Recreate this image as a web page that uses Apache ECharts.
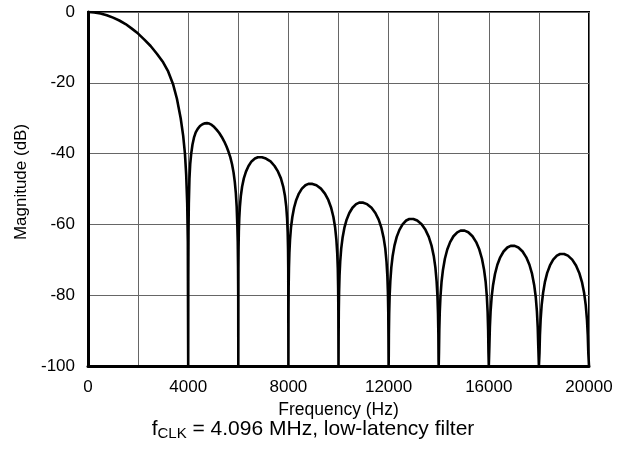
<!DOCTYPE html>
<html>
<head>
<meta charset="utf-8">
<script src="https://cdn.jsdelivr.net/npm/echarts@6/dist/echarts.min.js"></script>
<style>
html,body{margin:0;padding:0;background:#fff;}
#chart{width:626px;height:452px;}
</style>
</head>
<body>
<div id="chart"></div>
<script>
// Tick labels
const xTickLabels = [0, 4000, 8000, 12000, 16000, 20000];
const yTickLabels = [0, -20, -40, -60, -80, -100];

// Frequency response, lobe by lobe (Hz)
const freqHz = [
  // main lobe
  0, 250, 500, 750, 1000, 1250, 1500, 1750, 2000, 2250, 2500, 2750, 3000, 3200, 3400, 3550, 3700, 3800, 3870, 3920, 3960, 3985,
  // lobe 1
  4000, 4004, 4012, 4025, 4050, 4080, 4120, 4170, 4230, 4300, 4380, 4470, 4570, 4670, 4750, 4840, 4940, 5040, 5140, 5240, 5340, 5440, 5530, 5610, 5680, 5750, 5810, 5860, 5900, 5935, 5960, 5978, 5990, 5997,
  // lobe 2
  6000, 6004, 6010, 6021, 6038, 6064, 6102, 6153, 6221, 6306, 6408, 6527, 6663, 6782, 6850,
  6942, 7103, 7287, 7448, 7586, 7701, 7793, 7862, 7914, 7948, 7971, 7986, 7994,
  // lobe 3
  8000, 8004, 8010, 8022, 8039, 8065, 8104, 8157, 8226, 8313, 8418, 8539, 8679, 8800, 8870,
  8960, 9119, 9299, 9458, 9593, 9706, 9797, 9864, 9915, 9949, 9972, 9986, 9994,
  // lobe 4
  10000, 10005, 10011, 10023, 10041, 10068, 10108, 10162, 10234, 10324, 10432, 10558, 10702, 10828, 10900,
  10988, 11142, 11318, 11472, 11604, 11714, 11802, 11868, 11917, 11950, 11972, 11987, 11994,
  // lobe 5
  12000, 12005, 12011, 12023, 12041, 12068, 12108, 12162, 12234, 12324, 12432, 12558, 12702, 12828, 12900,
  12988, 13142, 13318, 13472, 13604, 13714, 13802, 13868, 13917, 13950, 13972, 13987, 13994,
  // lobe 6
  14000, 14011, 14024, 14043, 14071, 14114, 14171, 14247, 14342, 14456, 14589, 14741, 14874, 14950,
  15034, 15181, 15349, 15496, 15622, 15727, 15811, 15874, 15921, 15953, 15974, 15987,
  // lobe 7
  16000, 16024, 16043, 16071, 16114, 16171, 16247, 16342, 16456, 16589, 16741, 16874, 16950,
  17034, 17181, 17349, 17496, 17622, 17727, 17811, 17874, 17921, 17953, 17974,
  // lobe 8
  18000, 18023, 18041, 18069, 18110, 18166, 18239, 18331, 18442, 18570, 18718, 18846, 18920,
  19006, 19158, 19330, 19482, 19611, 19719, 19806, 19870, 19919, 19951, 19973, 20000
];

// Magnitude (dB), same order as freqHz
const magnitudeDb = [
  // main lobe
  0, -0.1, -0.4, -0.9, -1.6, -2.4, -3.4, -4.7, -6.1, -7.8, -9.6, -11.8, -14.2, -16.8, -20.5, -24.5, -30, -35, -40, -46, -54, -65,
  // lobe 1
  -100, -75, -62, -54, -47, -43, -40, -37.5, -35.5, -34, -33, -32.2, -31.7, -31.45, -31.4, -31.5, -31.9, -32.5, -33.3, -34.2, -35.3, -36.6, -38, -39.5, -41, -43, -45.3, -48, -51, -55, -60, -65, -72, -80,
  // lobe 2
  -100, -72.6, -66.9, -62.1, -58.3, -55.0, -51.9, -49.3, -47.0, -45.1, -43.5, -42.2, -41.4, -41.05, -41,
  -41.05, -41.4, -42.2, -43.5, -45.1, -47.0, -49.3, -51.9, -55.0, -58.3, -62.1, -66.9, -72.6,
  // lobe 3
  -100, -84.3, -77.8, -72.4, -68.05, -64.3, -60.8, -57.9, -55.3, -53.1, -51.3, -49.9, -48.95, -48.56, -48.5,
  -48.56, -48.95, -49.9, -51.3, -53.1, -55.3, -57.9, -60.8, -64.3, -68.05, -72.4, -77.8, -84.3,
  // lobe 4
  -100, -91.7, -84.85, -79.1, -74.5, -70.55, -66.85, -63.8, -61.0, -58.66, -56.77, -55.29, -54.28, -53.86, -53.8,
  -53.86, -54.28, -55.29, -56.77, -58.66, -61.0, -63.8, -66.85, -70.55, -74.5, -79.1, -84.85, -91.7,
  // lobe 5
  -100, -98.4, -91.2, -85.1, -80.25, -76.1, -72.2, -68.9, -66.0, -63.53, -61.54, -59.97, -58.9, -58.47, -58.4,
  -58.47, -58.9, -59.97, -61.54, -63.53, -66.0, -68.9, -72.2, -76.1, -80.25, -85.1, -91.2, -98.4,
  // lobe 6
  -100, -96.2, -89.8, -84.7, -80.3, -76.2, -72.8, -69.7, -67.1, -65.0, -63.35, -62.23, -61.77, -61.7,
  -61.77, -62.23, -63.35, -65.0, -67.1, -69.7, -72.8, -76.2, -80.3, -84.7, -89.8, -96.2,
  // lobe 7
  -100, -94.1, -89.0, -84.6, -80.5, -77.1, -74.0, -71.4, -69.3, -67.65, -66.53, -66.07, -66,
  -66.07, -66.53, -67.65, -69.3, -71.4, -74.0, -77.1, -80.5, -84.6, -89.0, -94.1,
  // lobe 8
  -100, -96.4, -91.3, -86.9, -82.8, -79.4, -76.3, -73.7, -71.6, -69.95, -68.83, -68.37, -68.3,
  -68.37, -68.83, -69.95, -71.6, -73.7, -76.3, -79.4, -82.8, -86.9, -91.3, -96.4, -100
];

const FONT = 'Liberation Sans, Arial, Helvetica, sans-serif';
const chart = echarts.init(document.getElementById('chart'), null, {renderer: 'canvas'});
const seriesData = freqHz.map((f, i) => [f, magnitudeDb[i]]);

chart.setOption({
  animation: false,
  backgroundColor: '#ffffff',
  textStyle: {fontFamily: FONT, color: '#000'},
  title: {
    left: 'center',
    top: 417,
    padding: 0,
    text: '{m|f}{s|CLK}{m| = 4.096 MHz, low-latency filter}',
    textStyle: {
      fontWeight: 'normal',
      rich: {
        m: {fontFamily: FONT, fontSize: 21, fontWeight: 'normal', color: '#000', lineHeight: 24, verticalAlign: 'middle'},
        s: {fontFamily: FONT, fontSize: 15, fontWeight: 'normal', color: '#000', lineHeight: 15, padding: [10, 0, 0, 0], verticalAlign: 'middle'}
      }
    }
  },
  grid: {
    left: 88, top: 12, width: 501, height: 354,
    show: true, borderColor: '#000', borderWidth: 2, backgroundColor: 'transparent'
  },
  xAxis: {
    type: 'value',
    min: 0, max: 20000, interval: 2000,
    name: 'Frequency (Hz)',
    nameLocation: 'middle',
    nameGap: 33,
    nameTextStyle: {fontFamily: FONT, fontSize: 17.5, color: '#000'},
    axisLine: {show: true, onZero: false, lineStyle: {color: '#000', width: 3}},
    axisTick: {show: false},
    splitLine: {show: true, lineStyle: {color: '#666666', width: 1}},
    axisLabel: {
      fontFamily: FONT, fontSize: 17, color: '#000', margin: 13,
      showMinLabel: true, showMaxLabel: true,
      formatter: v => xTickLabels.includes(v) ? String(v) : ''
    }
  },
  yAxis: {
    type: 'value',
    min: -100, max: 0, interval: 20,
    name: 'Magnitude (dB)',
    nameLocation: 'middle',
    nameGap: 55,
    nameTextStyle: {fontFamily: FONT, fontSize: 17, color: '#000', padding: [0, 0, 0, 14]},
    axisLine: {show: true, onZero: false, lineStyle: {color: '#000', width: 3}},
    axisTick: {show: false},
    splitLine: {show: true, lineStyle: {color: '#666666', width: 1}},
    axisLabel: {
      fontFamily: FONT, fontSize: 17, color: '#000', margin: 13,
      formatter: v => yTickLabels.includes(v) ? String(v) : ''
    }
  },
  series: [{
    type: 'line',
    data: seriesData,
    showSymbol: false,
    symbol: 'none',
    clip: true,
    lineStyle: {color: '#000', width: 2.6, join: 'round'},
    z: 5
  }]
});
</script>
</body>
</html>
